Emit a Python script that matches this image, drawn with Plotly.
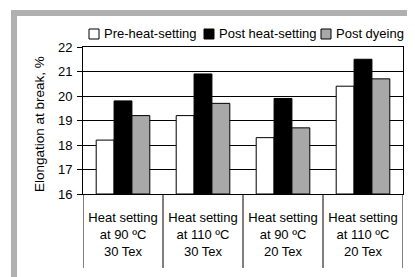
import plotly.graph_objects as go

categories = ["c1", "c2", "c3", "c4"]
cat_labels = ["Heat setting<br>at 90 ºC", "Heat setting<br>at 110 ºC",
              "Heat setting<br>at 90 ºC", "Heat setting<br>at 110 ºC"]
tex_labels = ["30 Tex", "30 Tex", "20 Tex", "20 Tex"]
series_names = ["Pre-heat-setting", "Post heat-setting", "Post dyeing"]
pre_heat = [18.2, 19.2, 18.3, 20.4]
post_heat = [19.8, 20.9, 19.9, 21.5]
post_dye = [19.2, 19.7, 18.7, 20.7]
colors = ["#ffffff", "#000000", "#a8a8a8"]
y_ticks = [16, 17, 18, 19, 20, 21, 22]
y_title = "Elongation at break, %"

FONT = "Liberation Sans, Arial, sans-serif"

fig = go.Figure()
for name, vals, col in zip(series_names, [pre_heat, post_heat, post_dye], colors):
    fig.add_trace(go.Bar(
        x=categories, y=[v - 16 for v in vals], base=16, name=name,
        marker=dict(color=col, line=dict(color="#000000", width=1)),
        showlegend=False,
    ))

OFF = 8  # page body margin
W, H = 407, 269
L, R, T, B = 75, 12, 39, 83
pw, ph = W - L - R, H - T - B

def px(x):
    return (x - OFF - L) / pw

def py(y):
    return (H - B - (y - OFF)) / ph

shapes = []
# gray frame
shapes.append(dict(type="rect", xref="paper", yref="paper", x0=px(11), x1=px(430),
                   y0=py(16), y1=py(10), fillcolor="#b0b0b0", line=dict(width=0)))
shapes.append(dict(type="rect", xref="paper", yref="paper", x0=px(11), x1=px(17),
                   y0=py(290), y1=py(10), fillcolor="#b0b0b0", line=dict(width=0)))
# category dividers
for i in range(len(categories) + 1):
    shapes.append(dict(type="line", xref="x", yref="paper", x0=i - 0.5, x1=i - 0.5,
                       y0=0, y1=py(268), line=dict(color="#000000", width=1)))

annotations = []
for i, t in enumerate(tex_labels):
    annotations.append(dict(x=categories[i], y=py(251), xref="x", yref="paper",
                            text=t, showarrow=False, font=dict(size=13, color="#000000", family=FONT),
                            xanchor="center", yanchor="middle"))
annotations.append(dict(x=px(39), y=py(124), xref="paper", yref="paper", text=y_title,
                        textangle=-90, showarrow=False, xanchor="center", yanchor="middle",
                        font=dict(size=13.5, color="#000000", family=FONT)))

# legend (manual, compact like the reference)
leg_sym_x = [89, 204, 321]
for name, col, sx in zip(series_names, colors, leg_sym_x):
    shapes.append(dict(type="rect", xref="paper", yref="paper", x0=px(sx), x1=px(sx + 10),
                       y0=py(39), y1=py(29), fillcolor=col, line=dict(color="#000000", width=1)))
    annotations.append(dict(x=px(sx + 13), y=py(34), xref="paper", yref="paper", text=name,
                            showarrow=False, xanchor="left", yanchor="middle",
                            font=dict(size=13, color="#000000", family=FONT)))

fig.update_layout(
    width=W, height=H,
    margin=dict(l=L, r=R, t=T, b=B, autoexpand=False),
    paper_bgcolor="#ffffff", plot_bgcolor="#ffffff",
    font=dict(family=FONT, size=13, color="#000000"),
    barmode="group", bargap=0.33, bargroupgap=0,
    showlegend=False,
    xaxis=dict(tickmode="array", tickvals=categories, ticktext=cat_labels,
               showline=True, linecolor="#000000", linewidth=1, mirror=True,
               showgrid=False, ticks="", tickfont=dict(size=13), range=[-0.5, 3.5],
               ticklabelstandoff=11),
    yaxis=dict(range=[16, 22], tickvals=y_ticks, showline=True, linecolor="#000000",
               linewidth=1, mirror=True, showgrid=True, gridcolor="#000000", gridwidth=1,
               ticks="outside", ticklen=5, tickcolor="#000000", tickfont=dict(size=13),
               ticklabelstandoff=2, zeroline=False),
    shapes=shapes, annotations=annotations,
)

fig.write_html("out.html")
